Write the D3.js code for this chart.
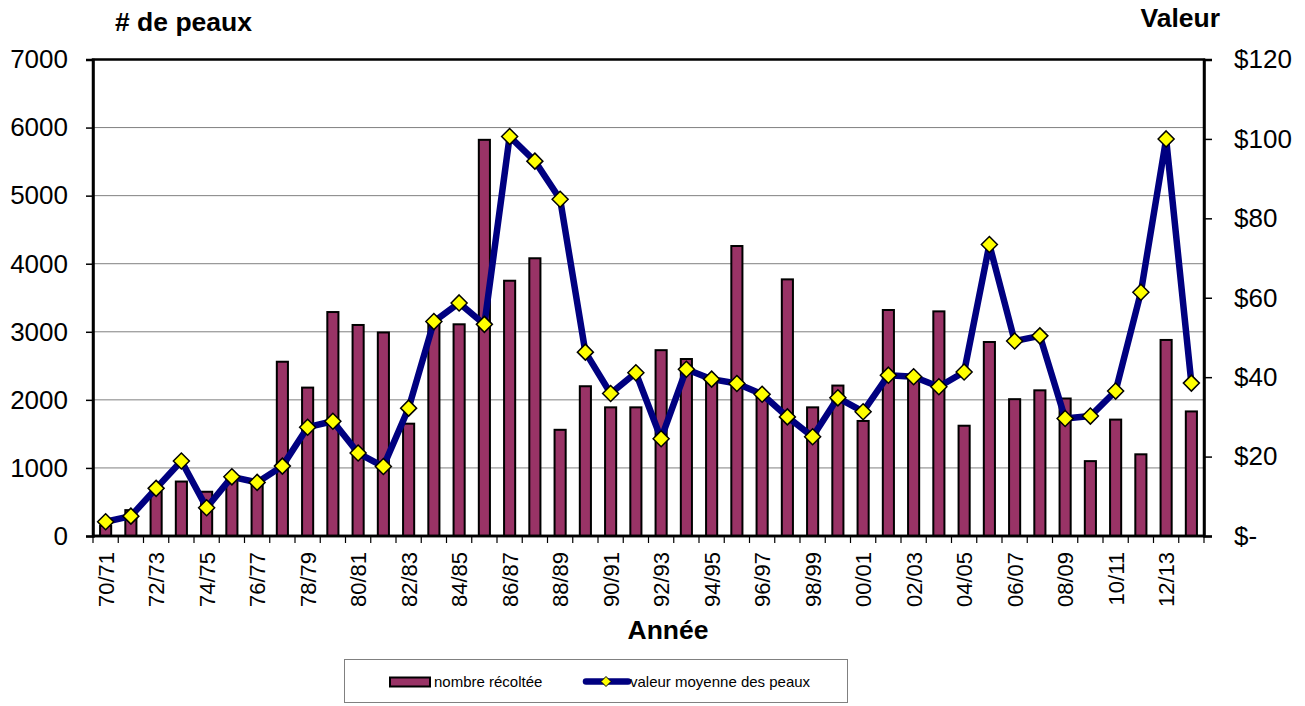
<!DOCTYPE html>
<html><head><meta charset="utf-8">
<script src="https://cdn.jsdelivr.net/npm/d3@7"></script>
<style>
html,body{margin:0;padding:0;background:#fff;}
svg{display:block;font-family:"Liberation Sans",Arial,sans-serif;}
</style></head>
<body>
<svg id="chart" width="1305" height="706"></svg>
<script>
const years = ["70/71","71/72","72/73","73/74","74/75","75/76","76/77","77/78","78/79","79/80",
"80/81","81/82","82/83","83/84","84/85","85/86","86/87","87/88","88/89","89/90",
"90/91","91/92","92/93","93/94","94/95","95/96","96/97","97/98","98/99","99/00",
"00/01","01/02","02/03","03/04","04/05","05/06","06/07","07/08","08/09","09/10",
"10/11","11/12","12/13","13/14"];
const harvest = [150,380,650,800,650,850,830,2560,2180,3290,
3100,2990,1650,3150,3110,5820,3750,4080,1560,2200,
1890,1890,2730,2600,2300,4260,2100,3770,1890,2210,
1690,3320,2300,3300,1620,2850,2010,2140,2020,1100,
1710,1200,2880,1830];
const value = [3.6,5.0,12.0,18.9,7.1,14.9,13.5,17.6,27.4,28.9,
20.9,17.5,32.2,54.0,58.7,53.3,100.6,94.4,84.8,46.3,
35.9,41.1,24.5,42.0,39.5,38.4,35.7,30.0,25.0,34.8,
31.3,40.5,40.1,37.6,41.3,73.4,49.1,50.4,29.6,30.2,
36.5,61.4,100.0,38.5];
const leftTicks = [0,1000,2000,3000,4000,5000,6000,7000];
const rightTicks = [0,20,40,60,80,100,120];
const seriesNames = ["nombre récoltée","valeur moyenne des peaux"];

const svg = d3.select("#chart");
const L=93, R=1204, T=59.5, B=536;
const x = d3.scaleBand().domain(years).range([L,R]).padding(0);
const yL = d3.scaleLinear().domain([0,7000]).range([B,T]);
const yR = d3.scaleLinear().domain([0,120]).range([B,T]);

// gridlines
svg.append("g").selectAll("line").data(leftTicks.filter(d=>d>0 && d<7000)).join("line")
  .attr("x1",L).attr("x2",R).attr("y1",d=>yL(d)).attr("y2",d=>yL(d))
  .attr("stroke","#808080").attr("stroke-width",1);

// bars
const bw = x.bandwidth()*0.44;
svg.append("g").selectAll("rect").data(harvest).join("rect")
  .attr("x",(d,i)=>x(years[i])+x.bandwidth()/2-bw/2)
  .attr("y",d=>yL(d)).attr("width",bw).attr("height",d=>B-yL(d))
  .attr("fill","#993366").attr("stroke","#000").attr("stroke-width",2);

// plot frame
svg.append("rect").attr("x",L).attr("y",T).attr("width",R-L).attr("height",B-T)
  .attr("fill","none").attr("stroke","#000").attr("stroke-width",2.5);

// left axis
const axL = d3.axisLeft(yL).tickValues(leftTicks).tickSize(7).tickPadding(18).tickFormat(d3.format("d"));
const gL = svg.append("g").attr("transform",`translate(${L},0)`).call(axL);
gL.select(".domain").attr("stroke-width",2.5);
gL.selectAll(".tick line").attr("stroke-width",1.5);
gL.selectAll("text").attr("font-size",26).attr("fill","#000").attr("font-family","Liberation Sans, Arial, sans-serif");

// right axis
const axR = d3.axisRight(yR).tickValues(rightTicks).tickSize(8).tickPadding(22)
  .tickFormat(d=> d===0 ? "$-" : "$"+d);
const gR = svg.append("g").attr("transform",`translate(${R},0)`).call(axR);
gR.select(".domain").attr("stroke-width",2.5);
gR.selectAll(".tick line").attr("stroke-width",1.5);
gR.selectAll("text").attr("font-size",26).attr("fill","#000").attr("font-family","Liberation Sans, Arial, sans-serif");

// x axis
const gX = svg.append("g").attr("transform",`translate(0,${B})`);
gX.append("line").attr("x1",L).attr("x2",R).attr("stroke","#000").attr("stroke-width",2.5);
const bounds = years.map(y=>x(y)).concat([R]);
gX.selectAll(".xt").data(bounds).join("line").attr("class","xt")
  .attr("x1",d=>d).attr("x2",d=>d).attr("y1",0).attr("y2",7)
  .attr("stroke","#000").attr("stroke-width",1.2);
gX.selectAll(".xl").data(years.filter((d,i)=>i%2===0)).join("text").attr("class","xl")
  .attr("transform",d=>`translate(${x(d)+x.bandwidth()/2+8},16) rotate(-90)`)
  .attr("text-anchor","end").attr("font-size",22).text(d=>d);

// line
const line = d3.line().x((d,i)=>x(years[i])+x.bandwidth()/2).y(d=>yR(d));
svg.append("path").datum(value).attr("d",line).attr("fill","none")
  .attr("stroke","#000080").attr("stroke-width",6.5).attr("stroke-linejoin","round");
svg.append("g").selectAll("path").data(value).join("path")
  .attr("transform",(d,i)=>`translate(${x(years[i])+x.bandwidth()/2},${yR(d)})`)
  .attr("d","M0,-8L8,0L0,8L-8,0Z")
  .attr("fill","#ffff00").attr("stroke","#000").attr("stroke-width",1.5);

// titles
svg.append("text").attr("x",115).attr("y",31).attr("font-size",26.5).attr("font-weight","bold").text("# de peaux");
svg.append("text").attr("x",1220).attr("y",27).attr("text-anchor","end").attr("font-size",26.5).attr("font-weight","bold").text("Valeur");
svg.append("text").attr("x",668).attr("y",639).attr("text-anchor","middle").attr("font-size",26.5).attr("font-weight","bold").text("Année");

// legend
const lg = svg.append("g");
lg.append("rect").attr("x",344.5).attr("y",659.5).attr("width",503).attr("height",43)
  .attr("fill","#fff").attr("stroke","#808080").attr("stroke-width",1);
lg.append("rect").attr("x",390).attr("y",677.5).attr("width",40).attr("height",9)
  .attr("fill","#993366").attr("stroke","#000").attr("stroke-width",2);
lg.append("text").attr("x",434).attr("y",687).attr("font-size",15).text(seriesNames[0]);
lg.append("line").attr("x1",586).attr("x2",628).attr("y1",681.5).attr("y2",681.5)
  .attr("stroke","#000080").attr("stroke-width",6.5).attr("stroke-linecap","round");
lg.append("path").attr("transform","translate(606,681.5)").attr("d","M0,-5L5,0L0,5L-5,0Z")
  .attr("fill","#ffff00").attr("stroke","#000").attr("stroke-width",1);
lg.append("text").attr("x",630).attr("y",687).attr("font-size",15).text(seriesNames[1]);
</script>
</body></html>
